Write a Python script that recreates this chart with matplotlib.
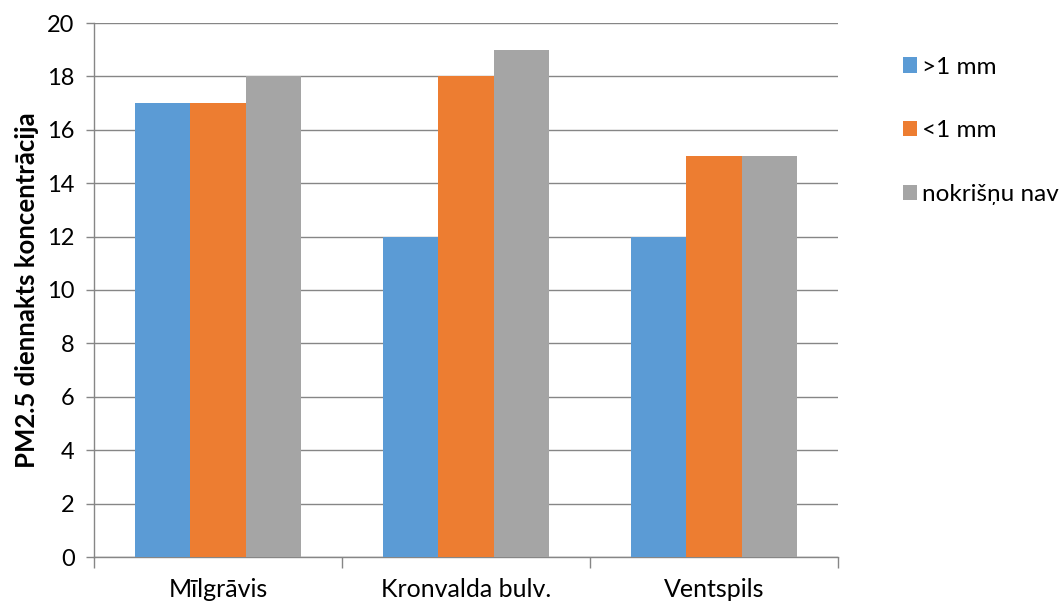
import matplotlib.pyplot as plt
import numpy as np
from matplotlib.patches import Patch

categories = ["Mīlgrāvis", "Kronvalda bulv.", "Ventspils"]
series_names = [">1 mm", "<1 mm", "nokrišņu nav"]
above_1mm = [17, 12, 12]
below_1mm = [17, 18, 15]
no_precip = [18, 19, 15]
y_ticks = [0, 2, 4, 6, 8, 10, 12, 14, 16, 18, 20]
colors = ["#5B9BD5", "#ED7D31", "#A5A5A5"]

plt.rcParams['font.family'] = ['Lato', 'DejaVu Sans']

fig = plt.figure(figsize=(10.60, 6.03), dpi=100)
ax = fig.add_axes([94 / 1060, 46 / 603, (838 - 94) / 1060, (557 - 23) / 603])

x = np.arange(len(categories))
width = 0.222
handles = []
for i, (vals, name) in enumerate(zip([above_1mm, below_1mm, no_precip], series_names)):
    ax.bar(x + (i - 1) * width, vals, width, color=colors[i], zorder=3, linewidth=0)
    handles.append(Patch(facecolor=colors[i], label=name))

ax.set_xlim(-0.5, len(categories) - 0.5)
ax.set_ylim(0, 20)
ax.set_yticks(y_ticks)
ax.yaxis.grid(True, color="#868686", linewidth=1, zorder=0)
ax.set_axisbelow(True)

for s in ["top", "right"]:
    ax.spines[s].set_visible(False)
for s in ["left", "bottom"]:
    ax.spines[s].set_color("#868686")
    ax.spines[s].set_linewidth(1)

ax.set_xticks(x)
ax.set_xticklabels(categories, fontsize=18)
ax.tick_params(axis="x", length=0, pad=15)
ax.set_xticks(np.arange(-0.5, len(categories), 1.0), minor=True)
ax.tick_params(axis="x", which="minor", length=8, color="#868686", width=1)
ax.tick_params(axis="y", length=6, color="#868686", width=1, labelsize=17, pad=8)

ax.set_ylabel("PM2.5 diennakts koncentrācija", fontsize=18.5, fontweight="bold", labelpad=6)

fig.legend(handles=handles, loc="upper left", bbox_to_anchor=(893 / 1060, 1 - 47 / 603),
           frameon=False, fontsize=17.5, handlelength=0.6, handleheight=0.6,
           handletextpad=0.2, labelspacing=1.75, borderaxespad=0)

fig.savefig("out.png", dpi=100)
